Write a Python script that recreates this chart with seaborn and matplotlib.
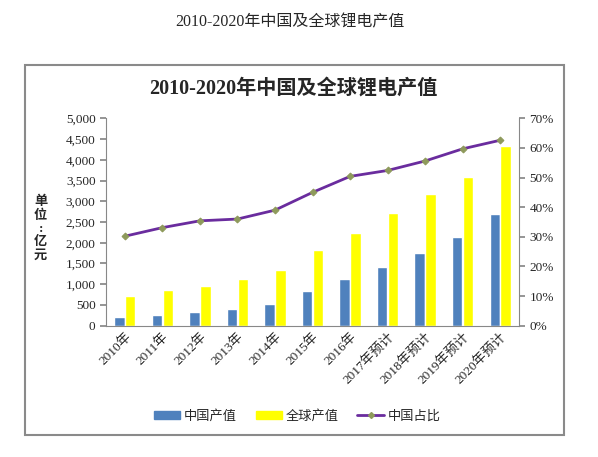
import matplotlib
matplotlib.use("Agg")
import matplotlib.pyplot as plt
import matplotlib.ticker as mticker
from matplotlib.patches import Rectangle
import pandas as pd
import seaborn as sns

# 数据（亿元 / 占比%）
years = ["2010年", "2011年", "2012年", "2013年", "2014年", "2015年", "2016年",
         "2017年预计", "2018年预计", "2019年预计", "2020年预计"]
china_value = [220, 270, 335, 400, 515, 830, 1120, 1415, 1750, 2130, 2700]
global_value = [725, 850, 965, 1135, 1345, 1830, 2235, 2710, 3170, 3580, 4340]
china_share = [30.2, 33.1, 35.4, 36.0, 39.0, 45.0, 50.4, 52.4, 55.6, 59.7, 62.6]

sns.set_theme(style="white")
plt.rcParams['font.family'] = ['Liberation Serif', 'Noto Sans CJK SC', 'DejaVu Sans']

df = pd.DataFrame({
    'year': years * 2,
    'value': china_value + global_value,
    'series': ['中国产值'] * len(years) + ['全球产值'] * len(years),
})

fig = plt.figure(figsize=(5.98, 4.57), dpi=100)
ax = fig.add_axes([0.1773, 0.2873, 0.6906, 0.4538])

sns.barplot(data=df, x='year', y='value', hue='series', order=years,
            palette={'中国产值': '#4F81BD', '全球产值': '#FFFF00'},
            width=0.58, gap=0.04, saturation=1, ax=ax, legend=False)

ax.set_ylim(0, 5000)
ax.set_xlim(-0.5, len(years) - 0.5)
ax.yaxis.set_major_locator(mticker.MultipleLocator(500))
ax.yaxis.set_major_formatter(mticker.FuncFormatter(lambda v, p: f"{int(v):,}"))
ax.set_xlabel('')
ax.set_ylabel('')
ax.tick_params(axis='y', labelsize=9.5, length=4, direction='out', color='#888888', left=True)
ax.tick_params(axis='x', labelsize=9.5, length=0)
plt.setp(ax.get_xticklabels(), rotation=45, ha='right', rotation_mode='anchor')
for s in ['top', 'right']:
    ax.spines[s].set_visible(False)
for s in ['left', 'bottom']:
    ax.spines[s].set_color('#888888')
    ax.spines[s].set_linewidth(0.8)

ax2 = ax.twinx()
sns.lineplot(x=list(range(len(years))), y=china_share, ax=ax2, color='#6A2C9E',
             linewidth=2, marker='D', markersize=3.5, markerfacecolor='#8E9A5B',
             markeredgecolor='#8E9A5B')
ax2.set_ylim(0, 70)
ax2.yaxis.set_major_locator(mticker.MultipleLocator(10))
ax2.yaxis.set_major_formatter(mticker.FuncFormatter(lambda v, p: f"{int(v)}%"))
ax2.tick_params(axis='y', labelsize=9.5, length=4, direction='out', color='#888888', right=True)
for s in ['top', 'left', 'bottom']:
    ax2.spines[s].set_visible(False)
ax2.spines['right'].set_color('#888888')
ax2.spines['right'].set_linewidth(0.8)
ax2.set_ylabel('')

# 图例
handles = [Rectangle((0, 0), 1, 1, color='#4F81BD'),
           Rectangle((0, 0), 1, 1, color='#FFFF00'),
           plt.Line2D([], [], color='#6A2C9E', linewidth=2, marker='D', markersize=3,
                      markerfacecolor='#8E9A5B', markeredgecolor='#8E9A5B')]
fig.legend(handles, ['中国产值', '全球产值', '中国占比'], loc='center',
           bbox_to_anchor=(0.497, 0.09), ncol=3, frameon=False,
           handlelength=2.0, handleheight=0.6, columnspacing=1.4, handletextpad=0.3,
           prop={'family': ['Noto Sans CJK SC'], 'size': 9.5})

# 标题与单位
fig.text(0.485, 0.952, '2010-2020年中国及全球锂电产值', ha='center', va='center',
         fontsize=11.5)
fig.text(0.49, 0.807, '2010-2020年中国及全球锂电产值', ha='center', va='center',
         fontsize=14.5, fontweight='bold')
fig.text(0.068, 0.5, '单\n位\n:\n亿\n元', ha='center', va='center', fontsize=9.5,
         fontweight='bold', linespacing=1.15)

# 图表外框
fig.patches.append(Rectangle((25 / 598, (457 - 435) / 457), 539 / 598, 370 / 457,
                             transform=fig.transFigure, fill=False,
                             edgecolor='#8A8A8A', linewidth=1.5))

fig.savefig('out.png', dpi=100)
